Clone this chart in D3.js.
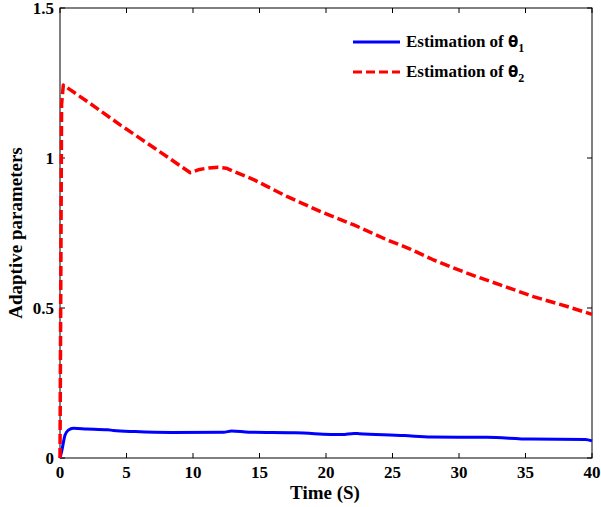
<!DOCTYPE html>
<html>
<head>
<meta charset="utf-8">
<script src="https://cdn.jsdelivr.net/npm/d3@7"></script>
<style>
  body { margin: 0; background: #fff; }
  text { font-family: "Liberation Serif", "Times New Roman", serif; font-weight: bold; }
</style>
</head>
<body>
<svg></svg>
<script>
// data
const theta1T = [0, 0.12, 0.38, 0.63, 1.0, 2, 3.6, 4, 5.65, 8.4, 12.3, 12.9, 14.2, 17.7, 21.2, 22.1, 22.5, 25.9, 27.9, 32.1, 35.4, 39.5, 40];
const theta1V = [0, 0.021, 0.077, 0.093, 0.099, 0.097, 0.094, 0.092, 0.088, 0.085, 0.086, 0.09, 0.086, 0.084, 0.078, 0.082, 0.081, 0.075, 0.07, 0.069, 0.063, 0.062, 0.057];

const theta2T = [0, 0.12, 0.25, 2.1, 4.6, 7.2, 9.8, 10.5, 11.2, 11.9, 12.5, 13.1, 14.6, 17.1, 19.6, 22.1, 24.6, 26.2, 28.1, 30.6, 33.1, 35.6, 38.2, 40];
const theta2V = [0, 1.18, 1.243, 1.187, 1.108, 1.03, 0.951, 0.962, 0.967, 0.969, 0.966, 0.955, 0.927, 0.871, 0.821, 0.777, 0.727, 0.699, 0.66, 0.616, 0.577, 0.538, 0.504, 0.479];

const xTicks = [0, 5, 10, 15, 20, 25, 30, 35, 40];
const yTicks = [0, 0.5, 1, 1.5];

const seriesNames = ['Estimation of ', 'Estimation of '];
const seriesSubs = ['1', '2'];

const size = {w: 601, h: 507};
const margin = {t: 8, r: 9, b: 49, l: 60};
const svg = d3.select('svg').attr('width', size.w).attr('height', size.h);

const x = d3.scaleLinear().domain([0, 40]).range([margin.l, size.w - margin.r]);
const y = d3.scaleLinear().domain([0, 1.5]).range([size.h - margin.b, margin.t]);

// frame
svg.append('rect')
    .attr('x', x(0)).attr('y', y(1.5))
    .attr('width', x(40) - x(0)).attr('height', y(0) - y(1.5))
    .attr('fill', 'none').attr('stroke', '#000').attr('stroke-width', 1);

// ticks pointing inward on all sides
const tl = 5;
const fmtY = d => d === 0 ? '0' : String(d);
const g = svg.append('g');
xTicks.forEach(t => {
    g.append('line').attr('x1', x(t)).attr('x2', x(t)).attr('y1', y(0)).attr('y2', y(0) - tl).attr('stroke', '#000');
    g.append('line').attr('x1', x(t)).attr('x2', x(t)).attr('y1', y(1.5)).attr('y2', y(1.5) + tl).attr('stroke', '#000');
    g.append('text').attr('x', x(t)).attr('y', y(0) + 20)
        .attr('text-anchor', 'middle').attr('font-size', 17).text(t);
});
yTicks.forEach(t => {
    g.append('line').attr('x1', x(0)).attr('x2', x(0) + tl).attr('y1', y(t)).attr('y2', y(t)).attr('stroke', '#000');
    g.append('line').attr('x1', x(40)).attr('x2', x(40) - tl).attr('y1', y(t)).attr('y2', y(t)).attr('stroke', '#000');
    g.append('text').attr('x', x(0) - 6).attr('y', y(t) + 6)
        .attr('text-anchor', 'end').attr('font-size', 17).text(fmtY(t));
});

// axis titles
svg.append('text').attr('x', (x(0) + x(40)) / 2 - 1).attr('y', 499)
    .attr('text-anchor', 'middle').attr('font-size', 19).text('Time (S)');
svg.append('text').attr('transform', `translate(22,${(y(0) + y(1.5)) / 2}) rotate(-90)`)
    .attr('text-anchor', 'middle').attr('font-size', 19).text('Adaptive parameters');

// lines
const line1 = d3.line().x(d => x(d[0])).y(d => y(d[1])).curve(d3.curveMonotoneX);
const line2 = d3.line().x(d => x(d[0])).y(d => y(d[1]));
const d1 = theta1T.map((t, i) => [t, theta1V[i]]);
const d2 = theta2T.map((t, i) => [t, theta2V[i]]);

svg.append('path').datum(d1).attr('d', line1)
    .attr('fill', 'none').attr('stroke', '#0000ff').attr('stroke-width', 3);
svg.append('path').datum(d2).attr('d', line2)
    .attr('fill', 'none').attr('stroke', '#ff0000').attr('stroke-width', 3.5)
    .attr('stroke-linejoin', 'round')
    .attr('stroke-dasharray', '10,4');

// legend
const legend = svg.append('g');
const styles = [{c: '#0000ff', dash: null}, {c: '#ff0000', dash: '9,4'}];
seriesNames.forEach((name, i) => {
    const ly = 42 + i * 30;
    legend.append('line').attr('x1', 353).attr('x2', 400).attr('y1', ly).attr('y2', ly)
        .attr('stroke', styles[i].c).attr('stroke-width', 3)
        .attr('stroke-dasharray', styles[i].dash);
    const t = legend.append('text').attr('x', 406).attr('y', ly + 5).attr('font-size', 17);
    t.append('tspan').text(name);
    t.append('tspan').style('font-family', '"DejaVu Sans", sans-serif').attr('font-size', 15).text('\u03b8');
    t.append('tspan').attr('dy', 5).attr('font-size', 12).text(seriesSubs[i]);
});
</script>
</body>
</html>
